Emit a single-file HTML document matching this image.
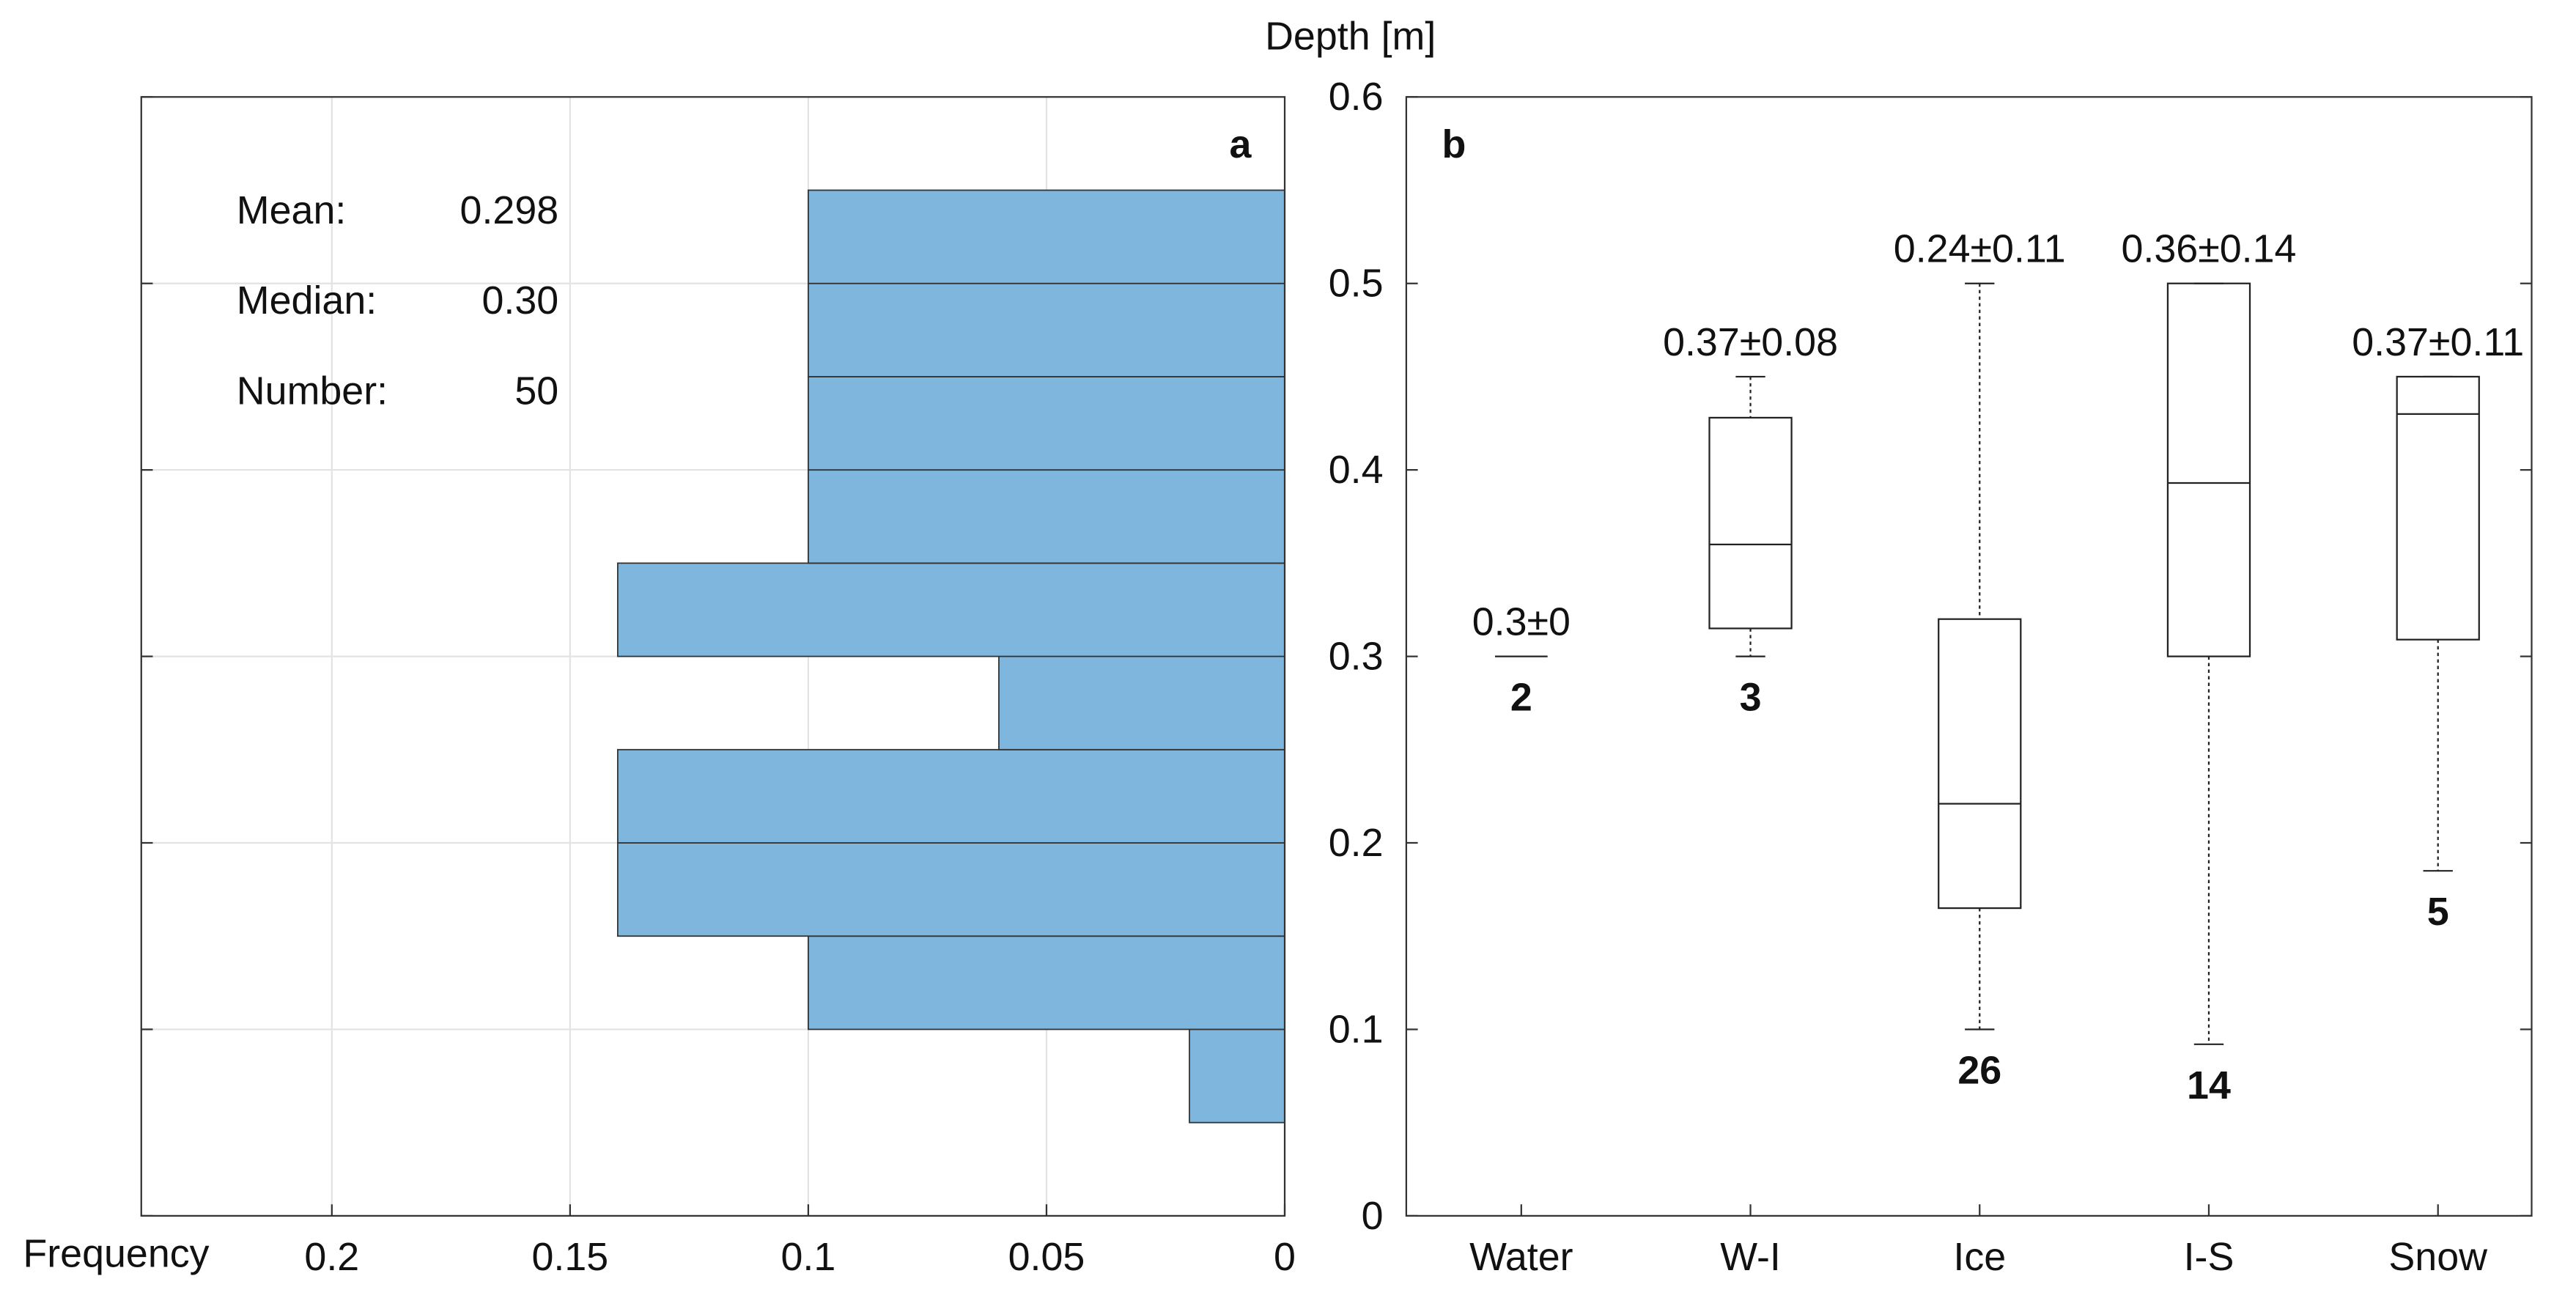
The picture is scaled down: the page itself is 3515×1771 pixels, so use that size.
<!DOCTYPE html>
<html><head><meta charset="utf-8"><style>
html,body{margin:0;padding:0;background:#fff}
svg{display:block}
text{font-family:"Liberation Sans",Arial,sans-serif;fill:#111}
</style></head><body>
<svg id="chart" width="3515" height="1771" viewBox="0 0 1568 790" xmlns="http://www.w3.org/2000/svg">
<g id="pa"></g>
<g id="pb"></g>
</svg>
<script>
// Panel a data
const binEdges=[0.05,0.1,0.15,0.2,0.25,0.3,0.35,0.4,0.45,0.5,0.55];
const binFreq=[0.02,0.1,0.14,0.14,0.06,0.14,0.1,0.1,0.1,0.1];
const freqTicks=[0.2,0.15,0.1,0.05,0];
const freqTickLabels=["0.2","0.15","0.1","0.05","0"];
const depthTicks=[0,0.1,0.2,0.3,0.4,0.5,0.6];
const depthTickLabels=["0","0.1","0.2","0.3","0.4","0.5","0.6"];
const statLabels=["Mean:","Median:","Number:"];
const statValues=["0.298","0.30","50"];
// Panel b data
const categories=["Water","W-I","Ice","I-S","Snow"];
const whiskerLow=[0.3,0.3,0.1,0.092,0.185];
const q1=[0.3,0.315,0.165,0.3,0.309];
const median=[0.3,0.36,0.221,0.393,0.43];
const q3=[0.3,0.428,0.32,0.5,0.45];
const whiskerHigh=[0.3,0.45,0.5,0.5,0.45];
const meanSdLabels=["0.3±0","0.37±0.08","0.24±0.11","0.36±0.14","0.37±0.11"];
const counts=["2","3","26","14","5"];

const NS="http://www.w3.org/2000/svg";
const FS=24;
function mk(parent,tag,attrs,txt){const e=document.createElementNS(NS,tag);for(const k in attrs)e.setAttribute(k,attrs[k]);if(txt!==undefined)e.textContent=txt;parent.appendChild(e);return e;}
const yTop=59,yBot=740;
const y=v=>yBot-(v/0.6)*(yBot-yTop);
// panel a
const aL=86,aR=782;
const xa=v=>aR-(v/0.24)*(aR-aL);
const pa=document.getElementById('pa');
freqTicks.forEach(t=>{if(t>0&&t<0.24){const l=mk(pa,'line',{x1:xa(t),x2:xa(t),y1:yTop,y2:yBot,stroke:'#e3e3e3','stroke-width':1});}});
depthTicks.forEach(t=>{if(t>0&&t<0.6){const l=mk(pa,'line',{x1:aL,x2:aR,y1:y(t),y2:y(t),stroke:'#e3e3e3','stroke-width':1});}});
binFreq.forEach((f,i)=>{const r=mk(pa,'rect',{x:xa(f),y:y(binEdges[i+1]),width:xa(0)-xa(f),height:y(binEdges[i])-y(binEdges[i+1]),fill:'#7eb6dd',stroke:'#333','stroke-width':0.8});});
const fa=mk(pa,'rect',{x:aL,y:yTop,width:aR-aL,height:yBot-yTop,fill:'none',stroke:'#333','stroke-width':1});

depthTicks.forEach(t=>{mk(pa,'line',{x1:aL,x2:aL+7,y1:y(t),y2:y(t),stroke:'#333','stroke-width':1});});
freqTicks.forEach((t,i)=>{mk(pa,'line',{x1:xa(t),x2:xa(t),y1:yBot,y2:yBot-7,stroke:'#333','stroke-width':1});const tx=mk(pa,'text',{x:xa(t),y:773,'font-size':FS,'text-anchor':'middle'},freqTickLabels[i]);});
let ft=mk(pa,'text',{x:14,y:771,'font-size':FS},'Frequency');
statLabels.forEach((s,i)=>{const a=mk(pa,'text',{x:144,y:136+i*55,'font-size':FS},s);const b=mk(pa,'text',{x:340,y:136+i*55,'font-size':FS,'text-anchor':'end'},statValues[i]);});
let la=mk(pa,'text',{x:755,y:96,'font-size':FS,'font-weight':'bold','text-anchor':'middle'},'a');
// panel b
const bL=856,bR=1541;
const xb=i=>926+i*139.5;
const pb=document.getElementById('pb');
const fb=mk(pb,'rect',{x:bL,y:yTop,width:bR-bL,height:yBot-yTop,fill:'none',stroke:'#333','stroke-width':1});

depthTicks.forEach((t,i)=>{mk(pb,'line',{x1:bL,x2:bL+7,y1:y(t),y2:y(t),stroke:'#333','stroke-width':1});mk(pb,'line',{x1:bR,x2:bR-7,y1:y(t),y2:y(t),stroke:'#333','stroke-width':1});const tx=mk(pb,'text',{x:842,y:y(t)+8,'font-size':FS,'text-anchor':'end'},depthTickLabels[i]);});
let yt=mk(pb,'text',{x:822,y:30,'font-size':FS,'text-anchor':'middle'},'Depth [m]');
let lb=mk(pb,'text',{x:885,y:96,'font-size':FS,'font-weight':'bold','text-anchor':'middle'},'b');
const bw=25,cw=9;
categories.forEach((c,i)=>{const cx=xb(i);
 mk(pb,'line',{x1:cx,x2:cx,y1:yBot,y2:yBot-7,stroke:'#333','stroke-width':1});
 const ct=mk(pb,'text',{x:cx,y:773,'font-size':FS,'text-anchor':'middle'},c);
 const g=mk(pb,'g',{});
 const st={stroke:'#222','stroke-width':1,fill:'none'};
 if(whiskerHigh[i]>q3[i])mk(g,'line',Object.assign({x1:cx,x2:cx,y1:y(whiskerHigh[i]),y2:y(q3[i]),'stroke-dasharray':'2,2'},st));
 if(whiskerLow[i]<q1[i])mk(g,'line',Object.assign({x1:cx,x2:cx,y1:y(q1[i]),y2:y(whiskerLow[i]),'stroke-dasharray':'2,2'},st));
 if(q3[i]>q1[i]){
 mk(g,'line',Object.assign({x1:cx-cw,x2:cx+cw,y1:y(whiskerHigh[i]),y2:y(whiskerHigh[i])},st));
 mk(g,'line',Object.assign({x1:cx-cw,x2:cx+cw,y1:y(whiskerLow[i]),y2:y(whiskerLow[i])},st));
 mk(g,'rect',Object.assign({x:cx-bw,y:y(q3[i]),width:2*bw,height:y(q1[i])-y(q3[i])},st));
 mk(g,'line',Object.assign({x1:cx-bw,x2:cx+bw,y1:y(median[i]),y2:y(median[i])},st));
 } else {
 mk(g,'line',Object.assign({x1:cx-16,x2:cx+16,y1:y(median[i]),y2:y(median[i])},st));
 }
 const ml=mk(pb,'text',{x:cx,y:y(whiskerHigh[i])-13,'font-size':FS,'text-anchor':'middle'},meanSdLabels[i]);
 const nl=mk(pb,'text',{x:cx,y:y(whiskerLow[i])+33,'font-size':FS,'font-weight':'bold','text-anchor':'middle'},counts[i]);
});
</script>
</body></html>
